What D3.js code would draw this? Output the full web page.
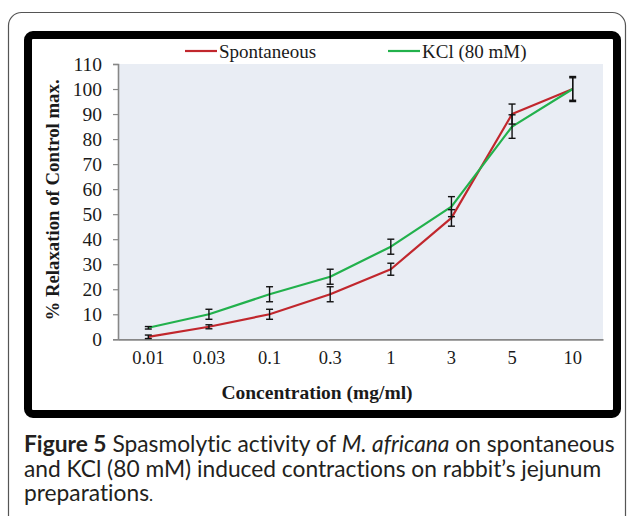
<!DOCTYPE html>
<html>
<head>
<meta charset="utf-8">
<script src="https://cdn.jsdelivr.net/npm/d3@7"></script>
<style>
  body { margin: 0; background: #fff; }
  svg { display: block; }
  .caption text { font-variant-ligatures: none; font-feature-settings: "liga" 0; }
</style>
</head>
<body>
<svg id="chart" width="627" height="516"></svg>
<script>
// concentrations (mg/ml), one category each
var concentrations = ["0.01", "0.03", "0.1", "0.3", "1", "3", "5", "10"];
// mean % relaxation and error (±) per series
var spontaneous = [1, 5, 10, 18, 28, 48.5, 90, 100];
var spontaneousErr = [0.7, 0.8, 2, 3, 2.4, 3.3, 4, 5];
var kcl = [4.6, 10, 18, 25, 37, 53, 85, 100];
var kclErr = [0.5, 2, 3, 3, 3, 4, 4.7, 4.5];
var yTicks = [0, 10, 20, 30, 40, 50, 60, 70, 80, 90, 100, 110];

var seriesNames = ["Spontaneous", "KCl (80 mM)"];
var seriesColors = ["#c1272d", "#22b14c"];

var svg = d3.select("#chart");
var serif = "'Liberation Serif', 'Times New Roman', serif";

// outer rounded panel
svg.append("rect")
  .attr("x", 8.5).attr("y", 12.5)
  .attr("width", 617).attr("height", 530)
  .attr("rx", 13)
  .attr("fill", "none")
  .attr("stroke", "#555")
  .attr("stroke-width", 1.2);

// thick black frame round the chart
svg.append("rect")
  .attr("x", 28).attr("y", 35)
  .attr("width", 589).attr("height", 379)
  .attr("rx", 5)
  .attr("fill", "#fff")
  .attr("stroke", "#000")
  .attr("stroke-width", 8);

var plot = {left: 118, right: 603, top: 64, bottom: 339.3};

var x = d3.scaleBand()
  .domain(concentrations)
  .range([plot.left, plot.right]);

var y = d3.scaleLinear()
  .domain([0, 110])
  .range([plot.bottom, plot.top]);

// plot background
svg.append("rect")
  .attr("x", plot.left).attr("y", plot.top)
  .attr("width", plot.right - plot.left)
  .attr("height", plot.bottom - plot.top)
  .attr("fill", "#e9edf4");

// y axis
var yAxis = svg.append("g")
  .attr("transform", "translate(" + plot.left + ",0)")
  .call(d3.axisLeft(y).tickValues(yTicks).tickSize(5).tickPadding(11));
yAxis.select(".domain").attr("stroke", "#878787").attr("stroke-width", 1.6);
yAxis.selectAll(".tick line").attr("stroke", "#878787").attr("stroke-width", 1.2);
yAxis.selectAll("text")
  .attr("font-family", serif).attr("font-size", 19.5).attr("fill", "#1a1a1a");

// x axis, no tick marks
var xAxis = svg.append("g")
  .attr("transform", "translate(0," + plot.bottom + ")")
  .call(d3.axisBottom(x).tickSizeInner(0).tickSizeOuter(0).tickPadding(12));
xAxis.select(".domain").attr("stroke", "#878787").attr("stroke-width", 1.8);
xAxis.selectAll("text")
  .attr("font-family", serif).attr("font-size", 18.5).attr("fill", "#1a1a1a");

// axis titles
svg.append("text")
  .attr("transform", "translate(59,200) rotate(-90)")
  .attr("text-anchor", "middle")
  .attr("font-family", serif).attr("font-size", 18.8).attr("font-weight", "bold")
  .attr("fill", "#1a1a1a")
  .text("% Relaxation of Control max.");

svg.append("text")
  .attr("x", 317).attr("y", 399)
  .attr("text-anchor", "middle")
  .attr("font-family", serif).attr("font-size", 19.5).attr("font-weight", "bold")
  .attr("fill", "#1a1a1a")
  .text("Concentration (mg/ml)");

var cx = function (d, i) { return x(concentrations[i]) + x.bandwidth() / 2; };

var series = [
  {name: seriesNames[0], color: seriesColors[0], values: spontaneous, err: spontaneousErr},
  {name: seriesNames[1], color: seriesColors[1], values: kcl, err: kclErr}
];

var line = d3.line()
  .x(cx)
  .y(function (d) { return y(d); });

series.forEach(function (s) {
  svg.append("path")
    .datum(s.values)
    .attr("d", line)
    .attr("fill", "none")
    .attr("stroke", s.color)
    .attr("stroke-width", 2.2)
    .attr("stroke-linejoin", "round");
});

// error bars on top of the lines
series.forEach(function (s) {
  var g = svg.append("g").attr("stroke", "#111").attr("stroke-width", 1.4);
  s.values.forEach(function (v, i) {
    var px = cx(v, i);
    var lo = y(v - s.err[i]), hi = y(v + s.err[i]);
    g.append("line").attr("x1", px).attr("x2", px).attr("y1", lo).attr("y2", hi);
    g.append("line").attr("x1", px - 3.5).attr("x2", px + 3.5).attr("y1", lo).attr("y2", lo);
    g.append("line").attr("x1", px - 3.5).attr("x2", px + 3.5).attr("y1", hi).attr("y2", hi);
  });
});

// legend
var legendX = [185, 388];
series.forEach(function (s, i) {
  var g = svg.append("g").attr("transform", "translate(" + legendX[i] + ",51)");
  g.append("line").attr("x1", 0).attr("x2", 32).attr("y1", 0).attr("y2", 0)
    .attr("stroke", s.color).attr("stroke-width", 2.2);
  g.append("text").attr("x", 34).attr("y", 6.5)
    .attr("font-family", serif).attr("font-size", 19).attr("fill", "#1a1a1a")
    .text(s.name);
});

// caption below the frame
var capFont = "Lato, 'Open Sans', sans-serif";
var cap = svg.append("g").attr("class", "caption")
  .attr("font-family", capFont).attr("fill", "#231f20");
var l1 = cap.append("text").attr("x", 24).attr("y", 452);
l1.append("tspan").attr("font-weight", "bold").text("Figure 5");
l1.append("tspan").text(" Spasmolytic activity of ");
l1.append("tspan").attr("font-style", "italic").text("M. africana");
l1.append("tspan").text(" on spontaneous");
var l2 = cap.append("text").attr("x", 24).attr("y", 476.5)
  .text("and KCl (80 mM) induced contractions on rabbit\u2019s jejunum");
var l3 = cap.append("text").attr("x", 24).attr("y", 501);
l3.append("tspan").text("preparations");
l3.append("tspan").attr("font-size", "0.75em").text(".");

// fit the first caption line to its width in the reference
cap.attr("font-size", 16);
var w = l1.node().getComputedTextLength();
cap.attr("font-size", 16 * 591 / w);
</script>
</body>
</html>
